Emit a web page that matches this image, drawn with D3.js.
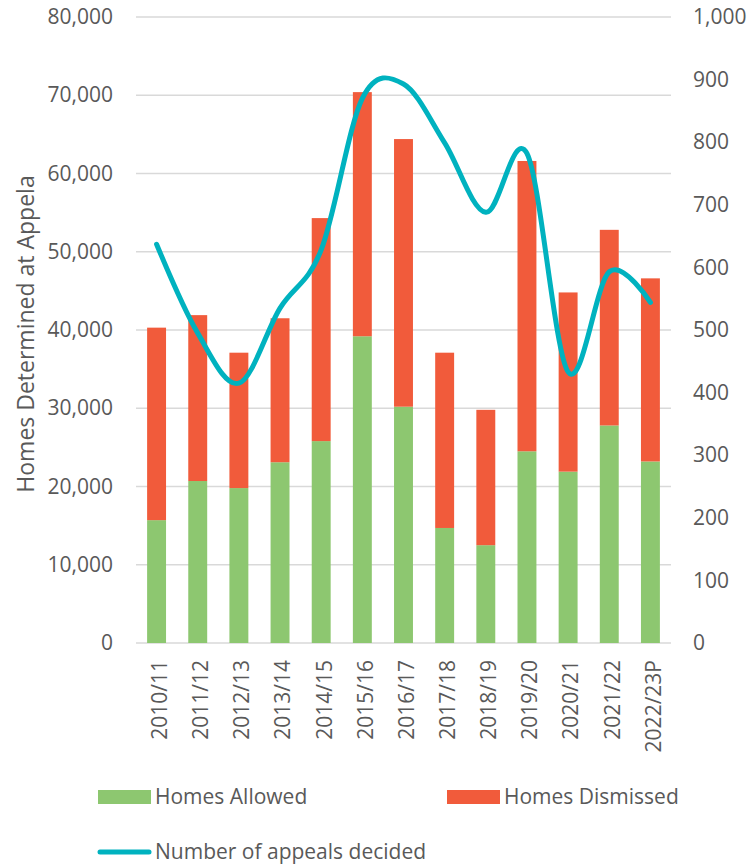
<!DOCTYPE html>
<html>
<head>
<meta charset="utf-8">
<script src="https://cdn.jsdelivr.net/npm/d3@7"></script>
<style>
  body { margin: 0; background: #fff; }
  text { font-family: "Open Sans", sans-serif; fill: #595959; }
</style>
</head>
<body>
<svg id="chart" width="756" height="865"></svg>
<script>
const years = ["2010/11", "2011/12", "2012/13", "2013/14", "2014/15", "2015/16", "2016/17",
  "2017/18", "2018/19", "2019/20", "2020/21", "2021/22", "2022/23P"];
const homesAllowed = [15700, 20700, 19800, 23100, 25800, 39200, 30200, 14700, 12500, 24500, 21900, 27800, 23200];
const homesDismissed = [24600, 21200, 17300, 18400, 28500, 31200, 34200, 22400, 17300, 37100, 22900, 25000, 23400];
const appealsDecided = [637, 495, 415, 535, 628, 870, 893, 799, 688, 782, 433, 593, 544];
const leftTicks = [0, 10000, 20000, 30000, 40000, 50000, 60000, 70000, 80000];
const rightTicks = [0, 100, 200, 300, 400, 500, 600, 700, 800, 900, 1000];

const svg = d3.select("#chart"),
  margin = {top: 17, right: 85, bottom: 222, left: 136},
  width = +svg.attr("width") - margin.left - margin.right,
  height = +svg.attr("height") - margin.top - margin.bottom,
  g = svg.append("g").attr("transform", "translate(" + margin.left + "," + margin.top + ")");

const green = "#8dc770", orange = "#f15b3b", teal = "#00b2bf";

let x = d3.scaleBand().domain(years).range([0, width]).paddingInner(0.54).paddingOuter(0.27);
let y = d3.scaleLinear().domain([0, 80000]).range([height, 0]);
let y2 = d3.scaleLinear().domain([0, 1000]).range([height, 0]);

// gridlines
g.selectAll(".grid").data(leftTicks).enter().append("line")
  .attr("x1", 0).attr("x2", width)
  .attr("y1", d => y(d)).attr("y2", d => y(d))
  .attr("stroke", "#d9d9d9").attr("stroke-width", 1.3);

// stacked bars
let rows = years.map((yr, i) => ({year: yr, allowed: homesAllowed[i], dismissed: homesDismissed[i]}));
let stack = d3.stack().keys(["allowed", "dismissed"])(rows);
let colors = {allowed: green, dismissed: orange};

g.selectAll(".layer").data(stack).enter().append("g")
  .attr("fill", d => colors[d.key])
  .selectAll("rect").data(d => d).enter().append("rect")
  .attr("x", d => x(d.data.year))
  .attr("y", d => y(d[1]))
  .attr("width", x.bandwidth())
  .attr("height", d => y(d[0]) - y(d[1]));

// line
let line = d3.line()
  .x((d, i) => x(years[i]) + x.bandwidth() / 2)
  .y(d => y2(d))
  .curve(d3.curveCardinal.tension(0));

g.append("path").datum(appealsDecided)
  .attr("d", line)
  .attr("fill", "none")
  .attr("stroke", teal)
  .attr("stroke-width", 5)
  .attr("stroke-linecap", "round");

// axes
let leftAxis = g.append("g")
  .call(d3.axisLeft(y).tickValues(leftTicks).tickSize(0).tickPadding(23).tickFormat(d3.format(",")));
leftAxis.select(".domain").remove();
leftAxis.selectAll("text").style("font-size", "21px").attr("fill", "#595959");

let rightAxis = g.append("g").attr("transform", "translate(" + width + ",0)")
  .call(d3.axisRight(y2).tickValues(rightTicks).tickSize(0).tickPadding(22).tickFormat(d3.format(",")));
rightAxis.select(".domain").remove();
rightAxis.selectAll("text").style("font-size", "21px").attr("fill", "#595959");

let bottomAxis = g.append("g").attr("transform", "translate(0," + height + ")")
  .call(d3.axisBottom(x).tickSize(0));
bottomAxis.select(".domain").remove();
bottomAxis.selectAll("text")
  .style("font-size", "21px").attr("fill", "#595959")
  .attr("text-anchor", "end")
  .attr("dy", "0.35em")
  .attr("transform", "translate(0,17) rotate(-90)");

// y axis title
svg.append("text")
  .attr("transform", "translate(34,334) rotate(-90)")
  .attr("text-anchor", "middle")
  .style("font-size", "23px")
  .text("Homes Determined at Appela");

// legend
let legend = svg.append("g");
let legendItems = [
  {label: "Homes Allowed", color: green, x: 98, y: 797, type: "rect"},
  {label: "Homes Dismissed", color: orange, x: 447, y: 797, type: "rect"},
  {label: "Number of appeals decided", color: teal, x: 98, y: 852, type: "line"}
];
legendItems.forEach(d => {
  if (d.type === "rect") {
    legend.append("rect").attr("x", d.x).attr("y", d.y - 7).attr("width", 53).attr("height", 14).attr("fill", d.color);
  } else {
    legend.append("line").attr("x1", d.x + 2).attr("x2", d.x + 51).attr("y1", d.y).attr("y2", d.y)
      .attr("stroke", d.color).attr("stroke-width", 5).attr("stroke-linecap", "round");
  }
  legend.append("text").attr("x", d.x + 57).attr("y", d.y).attr("dy", "0.35em")
    .style("font-size", "21px").text(d.label);
});
</script>
</body>
</html>
